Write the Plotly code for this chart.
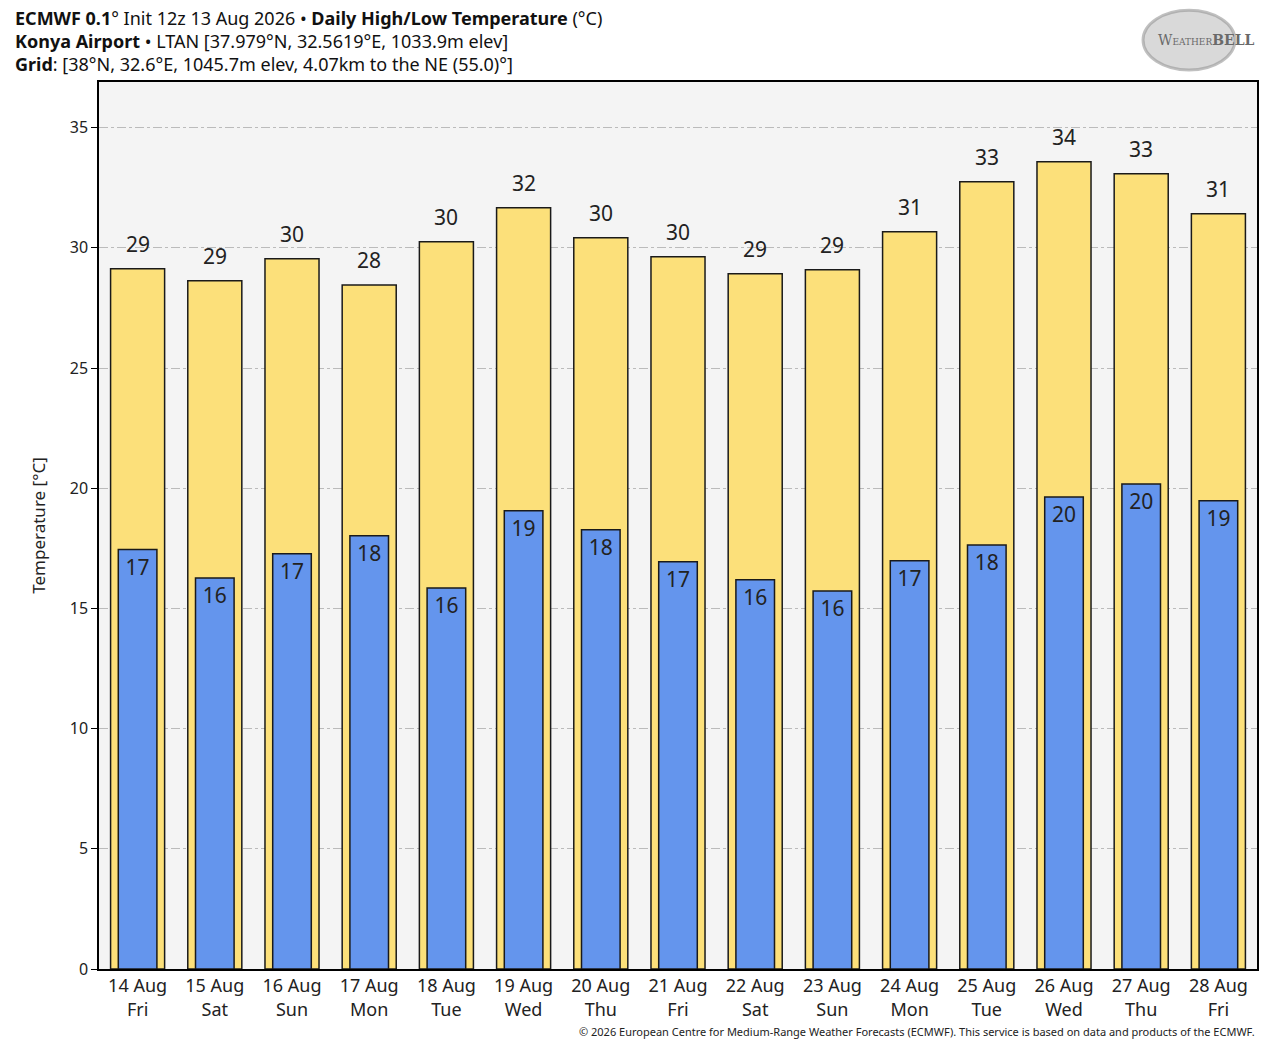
import plotly.graph_objects as go

days = ["14 Aug", "15 Aug", "16 Aug", "17 Aug", "18 Aug", "19 Aug", "20 Aug", "21 Aug",
        "22 Aug", "23 Aug", "24 Aug", "25 Aug", "26 Aug", "27 Aug", "28 Aug"]
weekdays = ["Fri", "Sat", "Sun", "Mon", "Tue", "Wed", "Thu", "Fri",
            "Sat", "Sun", "Mon", "Tue", "Wed", "Thu", "Fri"]
highs = [29.13, 28.63, 29.55, 28.46, 30.25, 31.67, 30.42, 29.63,
         28.92, 29.09, 30.67, 32.75, 33.58, 33.08, 31.42]
lows = [17.45, 16.27, 17.27, 18.02, 15.85, 19.06, 18.27, 16.94,
        16.19, 15.73, 16.98, 17.64, 19.64, 20.18, 19.48]

labels = [f"{d}<br>{w}" for d, w in zip(days, weekdays)]
font = "Noto Sans"

fig = go.Figure()

# daily highs (yellow, wide)
fig.add_trace(go.Bar(
    x=labels, y=highs, width=0.7,
    marker=dict(color="#FCE07A", line=dict(color="#1a1a1a", width=1.5)),
    name="High", hoverinfo="y",
))

# daily lows (blue, narrow)
fig.add_trace(go.Bar(
    x=labels, y=lows, width=0.5,
    marker=dict(color="#6495ED", line=dict(color="#1a1a1a", width=1.5)),
    text=[f"{round(v)}" for v in lows], textposition="inside",
    insidetextanchor="end", textangle=0,
    textfont=dict(size=21, color="#222222", family=font),
    name="Low", hoverinfo="y",
))

annotations = []
# high labels above the bars
for lab, v in zip(labels, highs):
    annotations.append(dict(
        x=lab, y=v, text=f"{round(v)}", xref="x", yref="y",
        xanchor="center", yanchor="bottom", yshift=9, showarrow=False,
        font=dict(size=21, color="#222222", family=font),
    ))

title_lines = [
    "<b>ECMWF 0.1</b>° Init 12z 13 Aug 2026 • <b>Daily High/Low Temperature</b> (°C)",
    "<b>Konya Airport</b> • LTAN [37.979°N, 32.5619°E, 1033.9m elev]",
    "<b>Grid</b>: [38°N, 32.6°E, 1045.7m elev, 4.07km to the NE (55.0)°]",
]
for i, line in enumerate(title_lines):
    annotations.append(dict(
        text=line, xref="paper", yref="paper", x=-0.0743, y=1.072 - i * 0.026,
        xanchor="left", yanchor="middle", showarrow=False,
        font=dict(size=18, color="#111111", family=font),
    ))

annotations.append(dict(
    text="© 2026 European Centre for Medium-Range Weather Forecasts (ECMWF). This service is based on data and products of the ECMWF.",
    xref="paper", yref="paper", x=1.0, y=-0.071, xanchor="right", yanchor="middle",
    showarrow=False, font=dict(size=11, color="#222222", family=font),
))

# WeatherBELL logo, roughly
annotations.append(dict(
    text="W<span style='font-size:9px'>EATHER</span><b>BELL</b>",
    xref="paper", yref="paper", x=1.0, y=1.047, xanchor="right", yanchor="middle",
    showarrow=False, font=dict(size=14, color="#6a6a6a", family="DejaVu Serif"),
))

fig.update_layout(
    width=1280, height=1051,
    barmode="overlay",
    showlegend=False,
    paper_bgcolor="white",
    plot_bgcolor="#F4F4F4",
    margin=dict(l=99, r=23, t=82, b=82),
    font=dict(family=font, color="#222222"),
    annotations=annotations,
    shapes=[dict(
        type="circle", xref="paper", yref="paper",
        x0=0.9016, x1=0.981, y0=1.0135, y1=1.081,
        fillcolor="rgba(170,170,170,0.45)", line=dict(color="rgba(150,150,150,0.6)", width=3),
        layer="below",
    )],
    xaxis=dict(
        range=[-0.5, 14.5],
        showline=True, linecolor="black", linewidth=1.5, mirror=True,
        showgrid=False, ticks="",
        tickfont=dict(size=18, color="#222222", family=font),
    ),
    yaxis=dict(
        range=[0, 36.9],
        tickvals=[0, 5, 10, 15, 20, 25, 30, 35],
        showline=True, linecolor="black", linewidth=1.5, mirror=True,
        ticks="outside", ticklen=6, tickcolor="black",
        showgrid=True, gridcolor="#BBBBBB", griddash="dashdot", gridwidth=1,
        zeroline=False,
        tickfont=dict(size=16, color="#222222", family=font),
        title=dict(text="Temperature [°C]", font=dict(size=17, color="#222222", family=font), standoff=20),
    ),
)

fig.write_html("out.html", config={"displayModeBar": False},
               post_script="document.body.style.margin='0';")
